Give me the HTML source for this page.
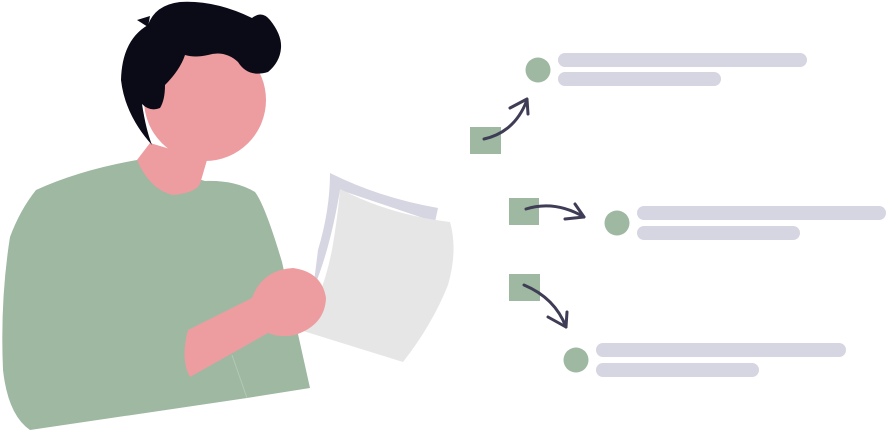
<!DOCTYPE html>
<html><head><style>html,body{margin:0;padding:0;background:#fff;}svg{display:block}</style></head>
<body>
<svg width="886" height="430" viewBox="0 0 886 430" xmlns="http://www.w3.org/2000/svg">
<!-- paper back -->
<path d="M330,173 Q380,198 438,208 L435,222 L340,190 Q330,250 313,290 L318,250 Q330,210 330,173Z" fill="#d6d5e2"/>
<!-- paper front -->
<path d="M340,189 Q390,215 450,222 Q458,250 448,285 Q432,325 403,362 L300,330 Q322,300 332,250 Q338,215 340,189Z" fill="#e6e6e6"/>
<!-- shirt -->
<path d="M137,160 Q80,170 36,190 Q20,210 10,237 Q0,300 3,370 Q8,415 30,430 L247,398 L310,388 L282,262 Q265,205 255,192 Q235,180 205,181 L150,165Z" fill="#9eb8a2"/>
<line x1="232" y1="355" x2="247" y2="398" stroke="#b3c8b6" stroke-width="1"/>
<!-- neck -->
<path d="M150,143 L137,160 Q150,190 173,195 Q195,193 200,184 L207,160Z" fill="#ed9da0"/>
<!-- head -->
<circle cx="205" cy="100" r="61" fill="#ed9da0"/>
<!-- hair -->
<path d="M152,145 Q125,115 121,80 Q122,40 148,25 Q155,5 180,2 Q215,0 252,18 Q262,10 270,20 Q282,35 281,48 Q280,62 268,72 Q248,78 238,62 Q225,50 208,55 Q195,58 185,55 Q180,70 165,85 Q165,100 160,108 Q150,112 142,104 Q146,130 152,145Z" fill="#0b0a17"/>
<path d="M137,20 L150,16 L148,27Z" fill="#0b0a17"/>
<!-- arm -->
<path d="M188,330 L252,298 Q262,270 293,268 Q322,272 326,298 Q325,325 295,335 Q280,338 268,333 L190,377 Q180,360 188,330Z" fill="#ed9da0"/>
<!-- right side items -->
<g fill="#9eb8a2">
<rect x="470" y="127" width="31" height="27"/>
<rect x="509" y="198" width="30" height="27"/>
<rect x="509" y="274" width="31" height="27"/>
<circle cx="538" cy="70" r="12.5"/>
<circle cx="617" cy="223" r="12.5"/>
<circle cx="576" cy="360" r="12.5"/>
</g>
<g stroke="#d6d5e2" stroke-linecap="round">
<line x1="565" y1="60" x2="800" y2="60" stroke-width="14"/>
<line x1="565" y1="79" x2="714" y2="79" stroke-width="14"/>
<line x1="644" y1="213" x2="879" y2="213" stroke-width="14"/>
<line x1="644" y1="233" x2="793" y2="233" stroke-width="14"/>
<line x1="603" y1="350" x2="839" y2="350" stroke-width="14"/>
<line x1="603" y1="370" x2="752" y2="370" stroke-width="14"/>
</g>
<g stroke="#3f3d56" stroke-width="3" fill="none" stroke-linecap="round" stroke-linejoin="round">
<path d="M484,139 Q515,132 527,100"/>
<path d="M510,108 L527,99 L528,114"/>
<path d="M526,209 Q555,200 584,217"/>
<path d="M575,204 L584,217 L565,219"/>
<path d="M524,285 Q555,298 566,327"/>
<path d="M548,317 L566,327 L567,312"/>
</g>
</svg>
</body></html>
